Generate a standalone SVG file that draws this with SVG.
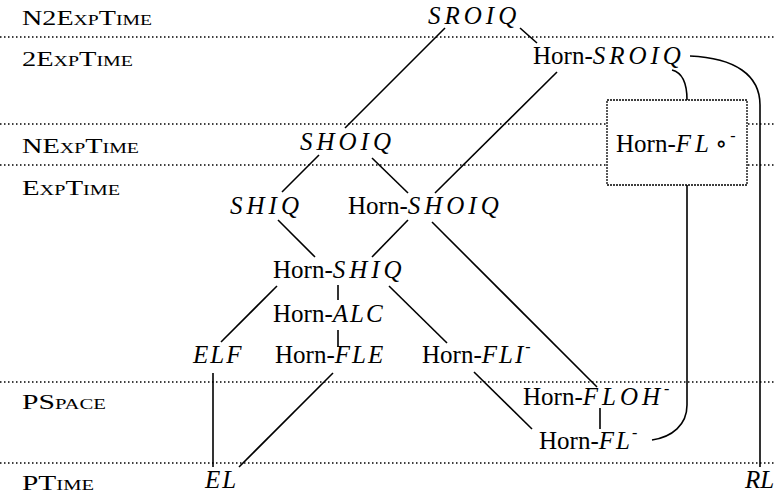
<svg xmlns="http://www.w3.org/2000/svg" width="775" height="500" viewBox="0 0 775 500">
<style>
.rule{stroke:#000;stroke-width:1.5;stroke-dasharray:1.5 2.5;fill:none}
text{font-family:"Liberation Serif","DejaVu Serif","Times New Roman",serif;fill:#000}
.tier{font-size:20px;font-variant:small-caps}
.n{font-size:25px}
.s{font-style:italic;letter-spacing:2px}
.s4{font-style:italic;letter-spacing:4px}
.sup{font-size:16px}
.c{stroke:#000;stroke-width:1.6;fill:none}
.box{fill:#fff;stroke:#000;stroke-width:1.3;stroke-dasharray:2 1}
</style>
<rect width="775" height="500" fill="#fff"/>
<g id="tiers">
<line class="rule" x1="0" y1="37" x2="775" y2="37"/>
<line class="rule" x1="0" y1="124" x2="775" y2="124"/>
<line class="rule" x1="0" y1="165" x2="775" y2="165"/>
<line class="rule" x1="0" y1="382" x2="775" y2="382"/>
<line class="rule" x1="0" y1="463" x2="775" y2="463"/>
<text class="tier" x="22" y="25" textLength="130" lengthAdjust="spacingAndGlyphs">N2ExpTime</text>
<text class="tier" x="22" y="66" textLength="111" lengthAdjust="spacingAndGlyphs">2ExpTime</text>
<text class="tier" x="22" y="153" textLength="117" lengthAdjust="spacingAndGlyphs">NExpTime</text>
<text class="tier" x="22" y="195" textLength="98" lengthAdjust="spacingAndGlyphs">ExpTime</text>
<text class="tier" x="22" y="409" textLength="84" lengthAdjust="spacingAndGlyphs">PSpace</text>
<text class="tier" x="22" y="490" textLength="72" lengthAdjust="spacingAndGlyphs">PTime</text>
</g>
<g id="connectors">
<line class="c" x1="520" y1="28" x2="537" y2="43"/>
<line class="c" x1="445" y1="28" x2="345" y2="128"/>
<line class="c" x1="557" y1="72" x2="435" y2="193"/>
<line class="c" x1="319" y1="155" x2="282" y2="192"/>
<line class="c" x1="372" y1="158" x2="408" y2="193"/>
<line class="c" x1="278" y1="220" x2="315" y2="257"/>
<line class="c" x1="408" y1="220" x2="372" y2="257"/>
<line class="c" x1="432" y1="222" x2="597" y2="387"/>
<line class="c" x1="277" y1="286" x2="221" y2="342"/>
<line class="c" x1="338" y1="285" x2="338" y2="300"/>
<line class="c" x1="338" y1="330" x2="338" y2="347"/>
<line class="c" x1="389" y1="286" x2="447" y2="343"/>
<line class="c" x1="213" y1="373" x2="213" y2="467"/>
<line class="c" x1="333" y1="373" x2="239" y2="467"/>
<line class="c" x1="474" y1="372" x2="532" y2="429"/>
<line class="c" x1="600" y1="408" x2="600" y2="429"/>
<path class="c" d="M672,70 C684,73 687,86 687,100"/>
<path class="c" d="M687,185 L687,405 C687,425 672,437 652,440"/>
<path class="c" d="M690,56 C735,58 760,75 760,105 L760,467"/>
</g>
<g id="SROIQ"><text class="n" x="428" y="24"><tspan class="s4">SROIQ</tspan></text></g>
<g id="Horn-SROIQ"><text class="n" x="533" y="64">Horn-<tspan class="s4">SROIQ</tspan></text></g>
<g id="Horn-FLo"><rect class="box" x="607" y="100" width="140" height="85"/><text class="n" x="616" y="152">Horn-<tspan class="s4">FL</tspan><tspan dx="2">∘</tspan><tspan class="sup" dx="3" dy="-11">-</tspan></text></g>
<g id="SHOIQ"><text class="n" x="300" y="150"><tspan class="s4">SHOIQ</tspan></text></g>
<g id="SHIQ"><text class="n" x="230" y="214"><tspan class="s4">SHIQ</tspan></text></g>
<g id="Horn-SHOIQ"><text class="n" x="348" y="214">Horn-<tspan class="s4">SHOIQ</tspan></text></g>
<g id="Horn-SHIQ"><text class="n" x="273" y="278">Horn-<tspan class="s4">SHIQ</tspan></text></g>
<g id="Horn-ALC"><text class="n" x="273" y="322">Horn-<tspan class="s">ALC</tspan></text></g>
<g id="ELF"><text class="n" x="193" y="363"><tspan class="s">ELF</tspan></text></g>
<g id="Horn-FLE"><text class="n" x="275" y="363">Horn-<tspan class="s">FLE</tspan></text></g>
<g id="Horn-FLI"><text class="n" x="422" y="363">Horn-<tspan class="s">FLI</tspan><tspan class="sup" dy="-11">-</tspan></text></g>
<g id="Horn-FLOH"><text class="n" x="523" y="405">Horn-<tspan class="s4">FLOH</tspan><tspan class="sup" dy="-11">-</tspan></text></g>
<g id="Horn-FL"><text class="n" x="539" y="449">Horn-<tspan class="s">FL</tspan><tspan class="sup" dy="-11">-</tspan></text></g>
<g id="EL"><text class="n" x="205" y="488"><tspan class="s">EL</tspan></text></g>
<g id="RL"><text class="n" x="745" y="488"><tspan style="font-style:italic">RL</tspan></text></g>
</svg>
